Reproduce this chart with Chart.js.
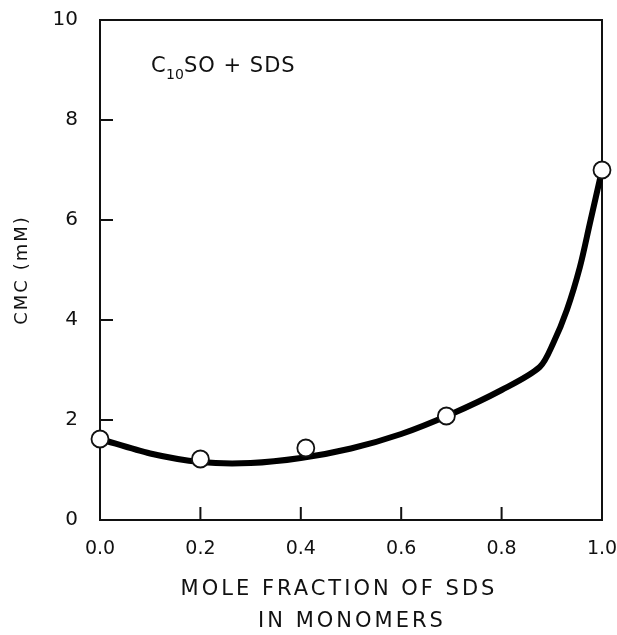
<!DOCTYPE html>
<html>
<head>
<meta charset="utf-8">
<script src="https://cdn.jsdelivr.net/npm/chart.js@4.4.1/dist/chart.umd.min.js"></script>
<style>
  html, body { margin: 0; padding: 0; background: #fff; }
  #wrap { width: 617px; height: 635px; }
</style>
</head>
<body>
<div id="wrap"><canvas id="cmcChart" width="617" height="635"></canvas></div>
<script>
// measured CMC values (mM) vs mole fraction of SDS
const moleFraction = [0.0, 0.2, 0.41, 0.69, 1.0];
const cmcMeasured = [1.62, 1.22, 1.44, 2.08, 7.0];

// fitted curve drawn through the data
const curveX = [0.0, 0.1, 0.2, 0.3, 0.4, 0.5, 0.6, 0.7, 0.8, 0.876, 0.903, 0.93, 0.956, 0.976, 1.0];
const curveY = [1.62, 1.33, 1.16, 1.14, 1.24, 1.43, 1.72, 2.12, 2.6, 3.06, 3.54, 4.2, 5.06, 5.94, 7.0];

const xTicks = [0.0, 0.2, 0.4, 0.6, 0.8, 1.0];
const yTicks = [0, 2, 4, 6, 8, 10];

const FONT = "'DejaVu Sans', sans-serif";

// box frame, inward ticks and free text
const decorations = {
  id: "decorations",
  beforeDatasetsDraw(chart) {
    const { ctx, chartArea: a, scales } = chart;
    ctx.save();
    ctx.strokeStyle = "#111";
    ctx.lineWidth = 2;
    ctx.strokeRect(a.left, a.top, a.right - a.left, a.bottom - a.top);

    ctx.beginPath();
    yTicks.slice(1, -1).forEach(v => {
      const y = scales.y.getPixelForValue(v);
      ctx.moveTo(a.left, y);
      ctx.lineTo(a.left + 13, y);
    });
    xTicks.slice(1, -1).forEach(v => {
      const x = scales.x.getPixelForValue(v);
      ctx.moveTo(x, a.bottom);
      ctx.lineTo(x, a.bottom - 13);
    });
    ctx.stroke();

    // C10SO + SDS
    ctx.fillStyle = "#111";
    ctx.textBaseline = "alphabetic";
    ctx.textAlign = "left";
    ctx.font = "21px " + FONT;
    ctx.fillText("C", 151, 72);
    ctx.font = "14px " + FONT;
    ctx.fillText("10", 166, 79);
    ctx.font = "21px " + FONT;
    ctx.letterSpacing = "1px";
    ctx.fillText("SO + SDS", 184, 72);

    // axis titles
    ctx.textAlign = "center";
    ctx.textBaseline = "middle";
    ctx.font = "21px " + FONT;
    ctx.letterSpacing = "3px";
    ctx.fillText("MOLE FRACTION OF SDS", 339, 590);
    ctx.fillText("IN MONOMERS", 352, 622);

    ctx.translate(22, 270);
    ctx.rotate(-Math.PI / 2);
    ctx.font = "18px " + FONT;
    ctx.letterSpacing = "2px";
    ctx.fillText("CMC (mM)", 0, 0);
    ctx.restore();
  }
};

new Chart(document.getElementById("cmcChart"), {
  type: "scatter",
  data: {
    datasets: [
      {
        label: "points",
        data: moleFraction.map((x, i) => ({ x: x, y: cmcMeasured[i] })),
        pointRadius: 8.5,
        pointBackgroundColor: "#fff",
        pointBorderColor: "#111",
        pointBorderWidth: 1.8,
        showLine: false,
        clip: false,
        order: 0
      },
      {
        label: "curve",
        data: curveX.map((x, i) => ({ x: x, y: curveY[i] })),
        showLine: true,
        borderColor: "#000",
        borderWidth: 6,
        pointRadius: 0,
        tension: 0.3,
        clip: false,
        order: 1
      }
    ]
  },
  options: {
    responsive: false,
    animation: false,
    layout: { padding: { top: 20, right: 15, left: 0, bottom: 0 } },
    plugins: { legend: { display: false }, tooltip: { enabled: false } },
    scales: {
      x: {
        type: "linear",
        min: 0,
        max: 1,
        afterBuildTicks: s => { s.ticks = xTicks.map(v => ({ value: v })); },
        afterFit: s => { s.height = 115; s.paddingLeft = 0; s.paddingRight = 0; },
        grid: { display: false },
        border: { display: false },
        ticks: {
          color: "#111",
          padding: 10,
          font: { family: FONT, size: 19 },
          callback: v => v.toFixed(1)
        }
      },
      y: {
        type: "linear",
        min: 0,
        max: 10,
        afterBuildTicks: s => { s.ticks = yTicks.map(v => ({ value: v })); },
        afterFit: s => { s.width = 100; s.paddingTop = 0; s.paddingBottom = 0; },
        grid: { display: false },
        border: { display: false },
        ticks: {
          color: "#111",
          padding: 14,
          font: { family: FONT, size: 20 }
        }
      }
    }
  },
  plugins: [decorations]
});
</script>
</body>
</html>
